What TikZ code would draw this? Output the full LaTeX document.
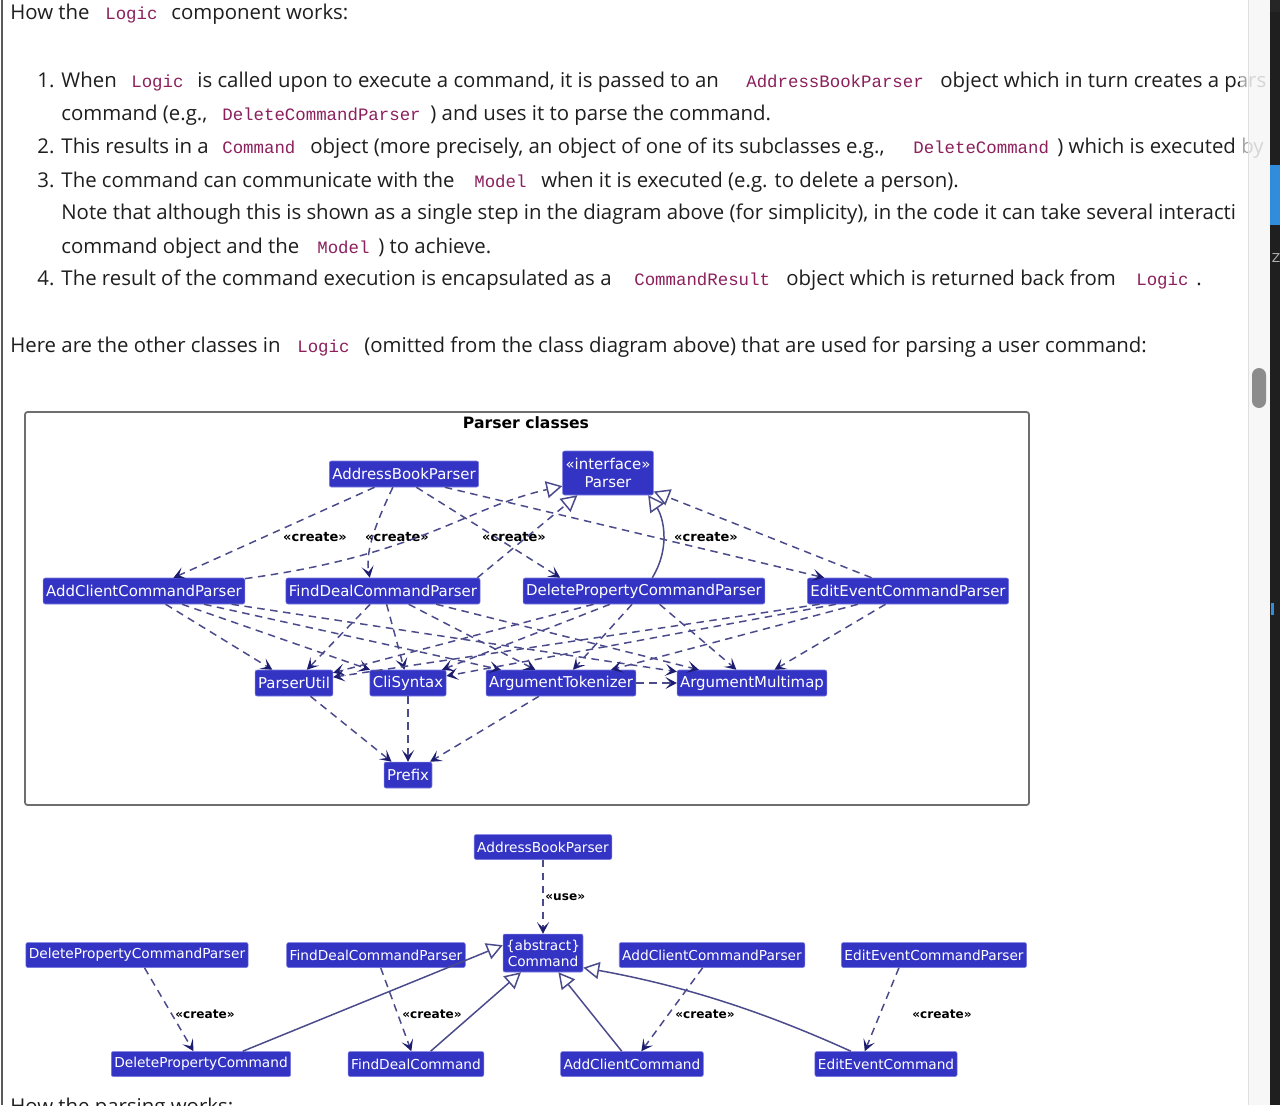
\documentclass[tikz,border=0pt]{standalone}
\usepackage{fontspec}
\setmainfont{Open Sans}
\newfontfamily\umlfam{DejaVu Sans}
\newfontfamily\codefam{Liberation Mono}
\usetikzlibrary{arrows.meta}
\usetikzlibrary{positioning}

\definecolor{ink}{RGB}{30,30,30}
\definecolor{codec}{RGB}{140,32,92}
\definecolor{clsfill}{RGB}{52,52,196}
\definecolor{clsline}{RGB}{120,120,225}
\definecolor{edgec}{RGB}{75,75,140}
\definecolor{arrc}{RGB}{28,28,112}
\definecolor{framec}{RGB}{110,110,110}
\definecolor{track}{RGB}{246,246,246}
\definecolor{thumb}{RGB}{140,140,140}
\definecolor{side}{RGB}{31,31,31}
\definecolor{sideblue}{RGB}{50,140,220}

\newcommand\bodyfnt{\fontsize{11.6}{14}\selectfont}
\newcommand\codefnt{\codefam\fontsize{9.9}{12}\selectfont}
\newcommand\umlfnt{\umlfam\fontsize{8.5}{10.2}\selectfont}
\newcommand\umlsfnt{\umlfam\fontsize{7.8}{9.2}\selectfont}
\newcommand\lblfnt{\umlfam\bfseries\fontsize{7.4}{9}\selectfont}
\newcommand\lblsfnt{\umlfam\bfseries\fontsize{6.9}{8}\selectfont}

\begin{document}
\begin{tikzpicture}[x=0.02cm,y=-0.02cm,
  txt/.style={anchor=base west,inner sep=0pt,font=\bodyfnt,text=ink},
  code/.style={anchor=base west,inner sep=0pt,font=\codefnt,text=codec},
  cls/.style={draw=clsline,fill=clsfill,text=white,font=\umlfnt,line width=0.3pt,
    inner xsep=1.7pt,inner ysep=0pt,minimum height=5.2mm,rounded corners=0.4mm},
  cls2/.style={cls,font=\umlsfnt,minimum height=5mm},
  lbl/.style={font=\lblfnt,inner sep=0pt},
  lbl2/.style={font=\lblsfnt,inner sep=0pt},
  dep/.style={draw=edgec,line width=0.85pt,dash pattern=on 1.5mm off 1.1mm,
    -{Stealth[length=2.3mm,width=2.4mm,inset=1.1mm,color=arrc]}},
  real/.style={draw=edgec,line width=0.85pt,dash pattern=on 1.5mm off 1.1mm,
    -{Triangle[length=3.2mm,width=3.4mm,fill=white]}},
  ext/.style={real,solid}]
 \useasboundingbox (0,0) rectangle (1280,1105);
 \clip (0,0) rectangle (1280,1105);
 \fill[white] (0,0) rectangle (1280,1105);
 \draw[gray!70!black,line width=0.4mm] (2,0) -- (2,1105);

 \node[txt] (h1) at (10,20) {How the};
 \node[code] (h2) at (105,20) {Logic};
 \node[txt] (h3) at (171,20) {component works:};

 \node[txt] (a1) at (37,88) {1. When};
 \node[code] (a2) at (131,88) {Logic};
 \node[txt] (a3) at (197,88) {is called upon to execute a command, it is passed to an};
 \node[code] (a4) at (746,88) {AddressBookParser};
 \node[txt] (a5) at (940,88) {object which in turn creates a pars};
 \node[txt] (b1) at (61,120) {command (e.g.,};
 \node[code] (b2) at (222,120) {DeleteCommandParser};
 \node[txt] (b3) at (430,120) {) and uses it to parse the command.};
 \node[txt] (c1) at (37,153) {2. This results in a};
 \node[code] (c2) at (222,153) {Command};
 \node[txt] (c3) at (310,153) {object (more precisely, an object of one of its subclasses e.g.,};
 \node[code] (c4) at (913,153) {DeleteCommand};
 \node[txt] (c5) at (1057,153) {) which is executed by};
 \node[txt] (d1) at (37,187) {3. The command can communicate with the};
 \node[code] (d2) at (474,187) {Model};
 \node[txt] (d3) at (541,187) {when it is executed (e.g. to delete a person).};
 \node[txt] (e1) at (61,219) {Note that although this is shown as a single step in the diagram above (for simplicity), in the code it can take several interacti};
 \node[txt] (f1) at (61,253) {command object and the};
 \node[code] (f2) at (317,253) {Model};
 \node[txt] (f3) at (378,253) {) to achieve.};
 \node[txt] (g1) at (37,285) {4. The result of the command execution is encapsulated as a};
 \node[code] (g2) at (634,285) {CommandResult};
 \node[txt] (g3) at (786,285) {object which is returned back from};
 \node[code] (g4) at (1136,285) {Logic};
 \node[txt] (g5) at (1196,285) {.};
 \node[txt] (k1) at (10,352) {Here are the other classes in};
 \node[code] (k2) at (297,352) {Logic};
 \node[txt] (k3) at (364,352) {(omitted from the class diagram above) that are used for parsing a user command:};
 \node[txt] (z1) at (10,1113) {How the parsing works:};

 \draw[framec,line width=0.35mm,rounded corners=0.5mm] (25,412) rectangle (1029,805);
 \node[font=\umlfam\bfseries\fontsize{8.9}{10}\selectfont] (title) at (526,423) {Parser classes};

 \node[cls] (abp) at (404,474) {AddressBookParser};
 \node[cls,align=center,minimum height=8.8mm] (prs) at (608,473) {«interface»\\Parser};
 \node[cls] (acp) at (144,591) {AddClientCommandParser};
 \node[cls] (fdcp) at (383,591) {FindDealCommandParser};
 \node[cls] (dpcp) at (644,591) {DeletePropertyCommandParser};
 \node[cls] (eecp) at (908,591) {EditEventCommandParser};
 \node[cls] (pu) at (294,683) {ParserUtil};
 \node[cls] (cs) at (408,683) {CliSyntax};
 \node[cls] (atok) at (561,683) {ArgumentTokenizer};
 \node[cls] (amap) at (752,683) {ArgumentMultimap};
 \node[cls] (pfx) at (408,775) {Prefix};

 \draw[dep] (abp) -- (acp);
 \draw[dep] (abp.-130) .. controls (375,525) and (365,552) .. (fdcp.135);
 \draw[dep] (abp.-47) -- (dpcp.171);
 \draw[dep] (abp.-18) -- (eecp.171);
 \node[lbl] (l1) at (315,537) {«create»};
 \node[lbl] (l2) at (397,537) {«create»};
 \node[lbl] (l3) at (514,537) {«create»};
 \node[lbl] (l4) at (706,537) {«create»};

 \draw[real] (acp.7) .. controls (420,555) and (465,508) .. (prs.196);
 \draw[real] (fdcp.8) -- (prs.216);
 \draw[ext] (dpcp.58) .. controls (672,545) and (662,515) .. (prs.-29);
 \draw[real] (eecp.160) -- (prs.-22);

 \foreach \s in {acp,fdcp,dpcp,eecp}
  \foreach \t in {pu,cs,atok,amap}
   \draw[dep] (\s) -- (\t);
 \draw[dep] (atok) -- (amap);
 \draw[dep] (pu) -- (pfx);
 \draw[dep] (cs) -- (pfx);
 \draw[dep] (atok) -- (pfx);

 \node[cls2] (abp2) at (543,847) {AddressBookParser};
 \node[cls2,align=center,minimum height=7.6mm] (cmd) at (543,953) {\{abstract\}\\Command};
 \node[cls2] (dpcp2) at (137,955) {DeletePropertyCommandParser};
 \node[cls2] (fdcp2) at (376,955) {FindDealCommandParser};
 \node[cls2] (acp2) at (712,955) {AddClientCommandParser};
 \node[cls2] (eecp2) at (934,955) {EditEventCommandParser};
 \node[cls2] (dpc) at (201,1064) {DeletePropertyCommand};
 \node[cls2] (fdc) at (416,1064) {FindDealCommand};
 \node[cls2] (acc) at (632,1064) {AddClientCommand};
 \node[cls2] (eec) at (886,1064) {EditEventCommand};

 \draw[dep] (abp2) -- (cmd);
 \node[lbl2,anchor=west] (u1) at (545,897) {«use»};
 \draw[dep] (dpcp2) -- (dpc);
 \draw[dep] (fdcp2) -- (fdc);
 \draw[dep] (acp2) -- (acc);
 \draw[dep] (eecp2.200) -- (eec.149);
 \node[lbl2] (m1) at (205,1014) {«create»};
 \node[lbl2] (m2) at (432,1014) {«create»};
 \node[lbl2] (m3) at (705,1014) {«create»};
 \node[lbl2] (m4) at (942,1014) {«create»};

 \draw[ext] (dpc.17) -- (cmd.169);
 \draw[ext] (fdc) -- (cmd);
 \draw[ext] (acc) -- (cmd);
 \draw[ext] (eec.160) .. controls (760,1010) and (680,985) .. (cmd.-20);

 \fill[white,opacity=0.6] (1240,0) rectangle (1248,1105);
 \fill[track,opacity=0.85] (1248,0) rectangle (1270,1105);
 \draw[gray!25] (1248,0) -- (1248,1105);
 \fill[thumb,rounded corners=1.4mm] (1252,368) rectangle (1266,408);
 \fill[side] (1270,0) rectangle (1280,1105);
 \fill[black!85] (1270,0) rectangle (1280,12);
 \fill[sideblue] (1270,165) rectangle (1280,225);
 \fill[sideblue] (1271,603) rectangle (1274,615);
 \node[text=gray!60,font=\umlfam\fontsize{7}{8}\selectfont,inner sep=0pt] (zz) at (1276,258) {Z};
\end{tikzpicture}
\end{document}
